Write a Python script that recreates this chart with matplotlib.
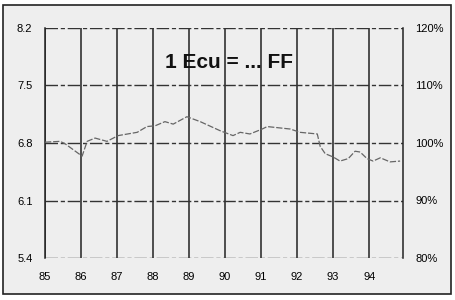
import matplotlib
matplotlib.use("Agg")
import matplotlib.pyplot as plt
from matplotlib.patches import Rectangle

# --- data ---
years = [85.0, 85.42, 85.56, 86.03, 86.17, 86.39, 86.72, 87.03, 87.56, 87.83,
         88.06, 88.33, 88.56, 88.94, 89.31, 89.86, 90.22, 90.42, 90.69, 91.03,
         91.17, 91.81, 92.08, 92.56, 92.64, 92.78, 93.0, 93.19, 93.42, 93.61,
         93.75, 93.94, 94.11, 94.31, 94.58, 94.86]
rate = [6.81, 6.82, 6.79, 6.64, 6.82, 6.86, 6.82, 6.89, 6.93, 7.00,
        7.01, 7.06, 7.03, 7.12, 7.06, 6.95, 6.89, 6.93, 6.91, 6.97,
        7.00, 6.97, 6.93, 6.91, 6.76, 6.67, 6.63, 6.58, 6.61, 6.70,
        6.69, 6.61, 6.58, 6.62, 6.57, 6.58]

x_ticks = [85, 86, 87, 88, 89, 90, 91, 92, 93, 94]
left_ticks = [5.4, 6.1, 6.8, 7.5, 8.2]
left_labels = ["5.4", "6.1", "6.8", "7.5", "8.2"]
right_ticks = [80, 90, 100, 110, 120]
right_labels = ["80%", "90%", "100%", "110%", "120%"]
title = "1 Ecu = ... FF"

plt.rcParams["font.family"] = ["Liberation Sans", "DejaVu Sans"]

fig = plt.figure(figsize=(4.56, 3.0), dpi=100)
fig.patch.set_facecolor("white")

# grey panel with a black frame around the whole chart
fig.patches.append(Rectangle((3 / 456, 6 / 300), 448 / 456, 289 / 300,
                             transform=fig.transFigure, facecolor="#eeeeee",
                             edgecolor="#222222", linewidth=1.2, zorder=-5))

ax = fig.add_axes([45 / 456, 1 - 258 / 300, 358 / 456, 230 / 300])
ax.set_facecolor("#eeeeee")
ax.set_xlim(85, 94.94)
ax.set_ylim(5.4, 8.2)

# vertical year lines (solid) and horizontal lines (dashed)
for x in x_ticks:
    ax.axvline(x, color="#222222", linewidth=1.1, zorder=1)
for y in left_ticks:
    ax.axhline(y, color="#333333", linewidth=1.0, dashes=(9, 2, 3, 2), zorder=1)

for side in ["left", "right"]:
    ax.spines[side].set_color("#222222")
    ax.spines[side].set_linewidth(1.1)
for side in ["top", "bottom"]:
    ax.spines[side].set_visible(False)

ax.plot(years, rate, color="#666666", linewidth=0.9, dashes=(5, 1.5), zorder=3)

ax.set_xticks(x_ticks)
ax.set_xticklabels([str(x) for x in x_ticks])
ax.set_yticks(left_ticks)
ax.set_yticklabels(left_labels)
ax.tick_params(axis="x", length=0, pad=10, labelsize=8)
ax.tick_params(axis="y", length=0, pad=9, labelsize=8)

ax2 = ax.twinx()
ax2.set_ylim(80, 120)
ax2.set_yticks(right_ticks)
ax2.set_yticklabels(right_labels)
ax2.tick_params(axis="y", length=0, pad=9, labelsize=8)
for side in ["top", "bottom", "left", "right"]:
    ax2.spines[side].set_visible(False)

ax.text(0.515, 0.85, title, transform=ax.transAxes, ha="center", va="center",
        fontsize=15, fontweight="bold", color="#111111", zorder=4)

fig.savefig("out.png", dpi=100)
